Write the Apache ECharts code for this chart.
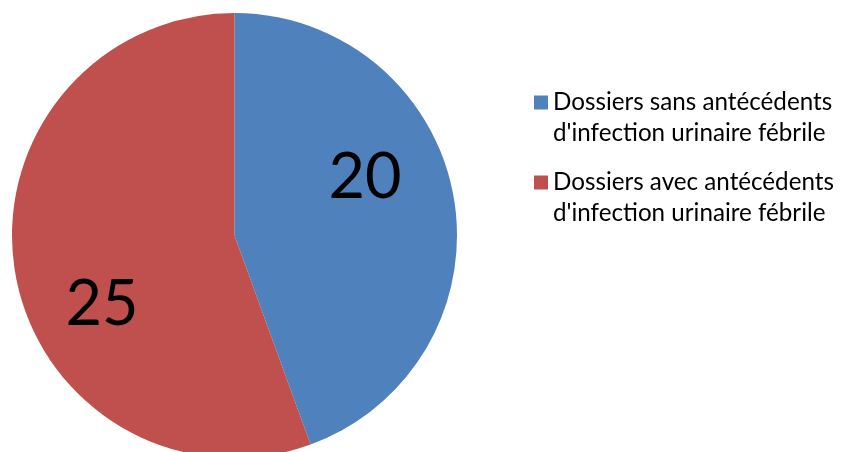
<!DOCTYPE html>
<html>
<head>
<meta charset="utf-8">
<script src="https://cdn.jsdelivr.net/npm/echarts@6/dist/echarts.min.js"></script>
<style>
  html, body { margin: 0; padding: 0; background: #fff; }
  #chart { width: 843px; height: 452px; }
</style>
</head>
<body>
<div id="chart"></div>
<script>
  // données
  let categories = [
    "Dossiers sans antécédents\nd'infection urinaire fébrile",
    "Dossiers avec antécédents\nd'infection urinaire fébrile"
  ];
  let values = [20, 25];
  let colors = ['#4F81BD', '#C0504D'];

  let myChart = echarts.init(document.getElementById('chart'));
  let option = {
    animation: false,
    legend: {
      orient: 'vertical',
      left: 534,
      top: 56,
      padding: 0,
      itemWidth: 14,
      itemHeight: 14,
      itemGap: -13,
      icon: 'rect',
      data: categories,
      // ligne vide au-dessus pour aligner le carré sur la 1re ligne
      formatter: function (name) {
        return '\n' + name;
      },
      textStyle: {
        fontFamily: 'Lato',
        fontSize: 24.2,
        color: '#000',
        lineHeight: 31
      }
    },
    series: [
      {
        type: 'pie',
        center: [234.5, 235.5],
        radius: 222.5,
        startAngle: 90,
        clockwise: true,
        silent: true,
        label: {
          show: true,
          position: 'inner',
          formatter: '{c}',
          fontFamily: 'Lato',
          fontSize: 63,
          color: '#000'
        },
        labelLine: { show: false },
        labelLayout: function (params) {
          // décalage des étiquettes comme dans Excel
          return params.dataIndex === 0 ? { dx: 18, dy: -38 } : { dx: -20, dy: 49 };
        },
        itemStyle: { borderWidth: 0 },
        data: categories.map(function (name, i) {
          return { name: name, value: values[i], itemStyle: { color: colors[i] } };
        })
      }
    ]
  };
  myChart.setOption(option);
</script>
</body>
</html>
